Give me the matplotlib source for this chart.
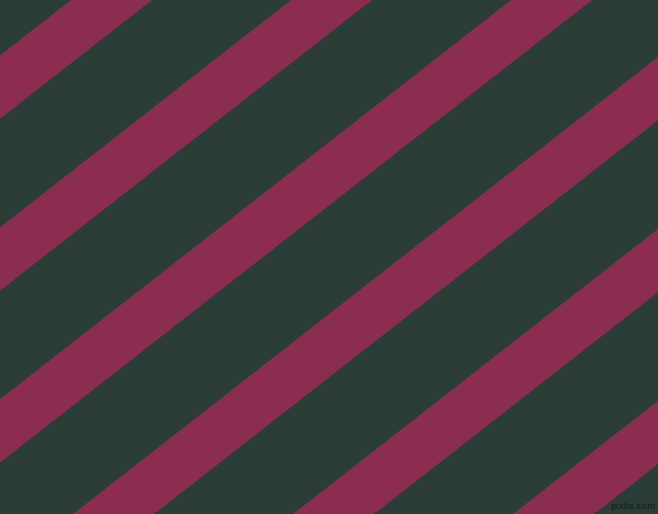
import numpy as np
import matplotlib
matplotlib.use("Agg")
import matplotlib.pyplot as plt

# Stripe data: x position where each stripe's upper edge meets the top border (px)
stripe_starts = [71, 291, 511, 731, 951, 1171]
stripe_width = 81          # horizontal width of each stripe (px)
stripe_angle_deg = 38      # rising angle of stripes
bg_color = "#2B3E36"
stripe_color = "#8A2C52"
watermark = "pixlis.com"

W, H = 658, 514
fig = plt.figure(figsize=(W / 100, H / 100), dpi=100)
fig.patch.set_facecolor(bg_color)
ax = fig.add_axes([0, 0, 1, 1])
ax.set_facecolor(bg_color)
ax.set_xlim(0, W)
ax.set_ylim(H, 0)
ax.axis("off")

slope = np.tan(np.radians(stripe_angle_deg))
dx = H / slope
for x0 in stripe_starts:
    xs = [x0, x0 + stripe_width, x0 + stripe_width - dx, x0 - dx]
    ys = [0, 0, H, H]
    ax.fill(xs, ys, color=stripe_color, lw=0, antialiased=True)

ax.text(656, 511, watermark, ha="right", va="bottom", fontsize=6.5,
        color="#1c1c1c", family="DejaVu Sans")

fig.savefig("out.png", dpi=100, facecolor=bg_color)
